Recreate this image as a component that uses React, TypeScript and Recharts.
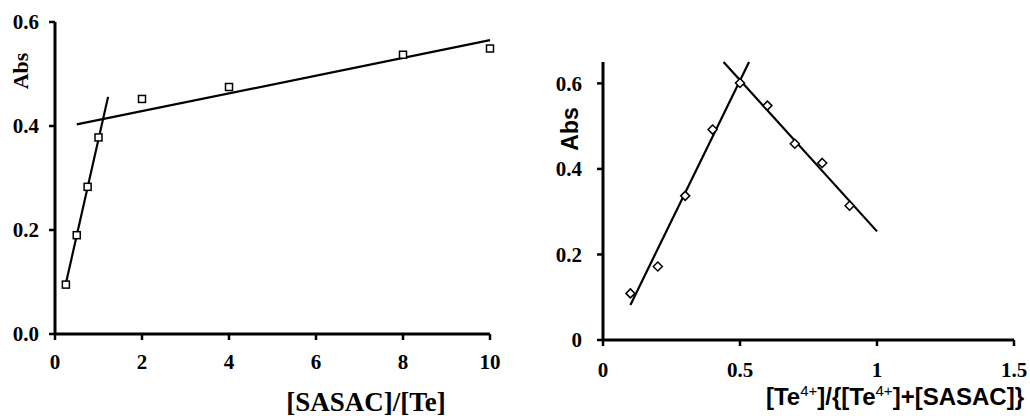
import { ComposedChart, Scatter, Line, XAxis, YAxis } from "recharts";

// left panel: mole ratio method
const ratioX = [0.25, 0.5, 0.75, 1, 2, 4, 8, 10];
const ratioAbs = [0.095, 0.19, 0.283, 0.378, 0.452, 0.475, 0.537, 0.549];
const ratioSteepX = [0.25, 1.22];
const ratioSteepY = [0.097, 0.456];
const ratioFlatX = [0.5, 10];
const ratioFlatY = [0.403, 0.565];
const ratioTicksX = [0, 2, 4, 6, 8, 10];
const ratioTicksY = [0, 0.2, 0.4, 0.6];

// right panel: continuous variation (Job) method
const jobX = [0.1, 0.2, 0.3, 0.4, 0.5, 0.6, 0.7, 0.8, 0.9];
const jobAbs = [0.109, 0.172, 0.337, 0.492, 0.601, 0.548, 0.459, 0.414, 0.314];
const jobUpX = [0.1, 0.533];
const jobUpY = [0.082, 0.65];
const jobDownX = [0.44, 1.0];
const jobDownY = [0.65, 0.254];
const jobTicksX = [0, 0.5, 1, 1.5];
const jobTicksY = [0, 0.2, 0.4, 0.6];

const pts = (xs: number[], ys: number[]) => xs.map((x, i) => ({ x, y: ys[i] }));

const serif = "'Liberation Serif', 'Times New Roman', serif";
const sans = "'Liberation Sans', Arial, sans-serif";
const axisLine = { stroke: "#000", strokeWidth: 3 };
const tickLine = { stroke: "#000", strokeWidth: 2.5 };

const makeTick = (horizontal: boolean, fmt: (v: number) => string) => (p: any) => (
  <text
    x={p.x}
    y={p.y}
    dy={horizontal ? "0.71em" : "0.355em"}
    textAnchor={horizontal ? "middle" : "end"}
    fill="#000"
    fontSize={21}
    fontWeight="bold"
    fontFamily={serif}
  >
    {fmt(p.payload.value)}
  </text>
);

const Square = (p: any) => (
  <rect x={p.cx - 3.5} y={p.cy - 3.5} width={7} height={7} fill="#fff" stroke="#000" strokeWidth={1.5} />
);
const Diamond = (p: any) => (
  <polygon
    points={`${p.cx},${p.cy - 4.5} ${p.cx + 4.5},${p.cy} ${p.cx},${p.cy + 4.5} ${p.cx - 4.5},${p.cy}`}
    fill="#fff"
    stroke="#000"
    strokeWidth={1.5}
  />
);

const sup = { fontSize: 15, fontWeight: "normal" as const };

export default function App() {
  return (
    <div style={{ position: "absolute", left: 0, top: 0, width: 1030, height: 416, background: "#fff" }}>
      <div style={{ position: "absolute", left: 0, top: 0 }}>
        <ComposedChart width={520} height={416} margin={{ top: 22, right: 30, bottom: 52, left: 0 }}>
          <XAxis type="number" dataKey="x" domain={[0, 10]} ticks={ratioTicksX} height={30}
            axisLine={axisLine} tickLine={tickLine} tickSize={6} tickMargin={14}
            tick={makeTick(true, (v) => String(v))} />
          <YAxis type="number" dataKey="y" domain={[0, 0.6]} ticks={ratioTicksY} width={55}
            axisLine={axisLine} tickLine={tickLine} tickSize={6} tickMargin={10}
            tick={makeTick(false, (v) => v.toFixed(1))} />
          <Line data={pts(ratioSteepX, ratioSteepY)} dataKey="y" type="linear" stroke="#000" strokeWidth={2.2} dot={false} isAnimationActive={false} />
          <Line data={pts(ratioFlatX, ratioFlatY)} dataKey="y" type="linear" stroke="#000" strokeWidth={2.2} dot={false} isAnimationActive={false} />
          <Scatter data={pts(ratioX, ratioAbs)} dataKey="y" shape={Square} isAnimationActive={false} />
        </ComposedChart>
      </div>
      <div style={{ position: "absolute", left: 21, top: 71, transform: "translate(-50%, -50%) rotate(-90deg)",
        fontFamily: serif, fontWeight: "bold", fontSize: 22, whiteSpace: "nowrap", lineHeight: 1 }}>Abs</div>
      <div style={{ position: "absolute", left: 366, top: 402, transform: "translate(-50%, -50%)",
        fontFamily: serif, fontWeight: "bold", fontSize: 27, whiteSpace: "nowrap", lineHeight: 1 }}>[SASAC]/[Te]</div>

      <div style={{ position: "absolute", left: 520, top: 0 }}>
        <ComposedChart width={510} height={416} margin={{ top: 62, right: 16, bottom: 46, left: 0 }}>
          <XAxis type="number" dataKey="x" domain={[0, 1.5]} ticks={jobTicksX} height={30}
            axisLine={axisLine} tickLine={tickLine} tickSize={6} tickMargin={16}
            tick={makeTick(true, (v) => String(v))} />
          <YAxis type="number" dataKey="y" domain={[0, 0.65]} ticks={jobTicksY} width={83}
            axisLine={axisLine} tickLine={tickLine} tickSize={6} tickMargin={15}
            tick={makeTick(false, (v) => String(v))} />
          <Line data={pts(jobUpX, jobUpY)} dataKey="y" type="linear" stroke="#000" strokeWidth={2.2} dot={false} isAnimationActive={false} />
          <Line data={pts(jobDownX, jobDownY)} dataKey="y" type="linear" stroke="#000" strokeWidth={2.2} dot={false} isAnimationActive={false} />
          <Scatter data={pts(jobX, jobAbs)} dataKey="y" shape={Diamond} isAnimationActive={false} />
        </ComposedChart>
      </div>
      <div style={{ position: "absolute", left: 570, top: 129, transform: "translate(-50%, -50%) rotate(-90deg)",
        fontFamily: sans, fontWeight: "bold", fontSize: 23, whiteSpace: "nowrap", lineHeight: 1 }}>Abs</div>
      <div style={{ position: "absolute", right: 6, top: 396, transform: "translateY(-50%)",
        fontFamily: sans, fontWeight: "bold", fontSize: 24, whiteSpace: "nowrap", lineHeight: 1 }}>
        [Te<sup style={sup}>4+</sup>]/{"{"}[Te<sup style={sup}>4+</sup>]+[SASAC]{"}"}
      </div>
    </div>
  );
}
